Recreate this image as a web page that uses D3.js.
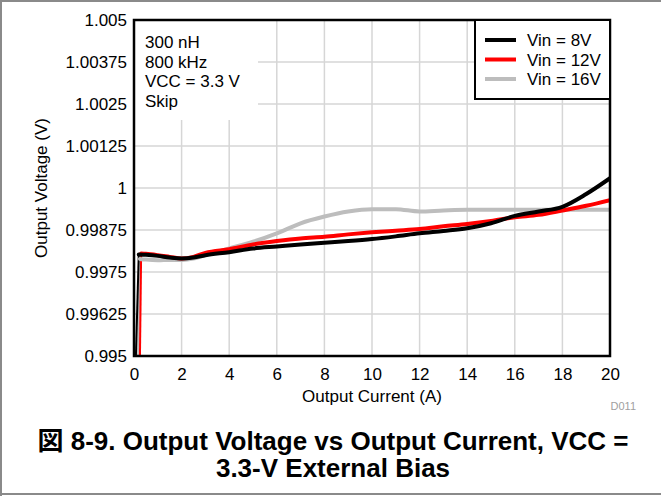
<!DOCTYPE html>
<html>
<head>
<meta charset="utf-8">
<script src="https://cdn.jsdelivr.net/npm/d3@7"></script>
<style>
  html, body { margin: 0; padding: 0; background: #fff; }
  svg { display: block; }
  text { font-family: "Liberation Sans", Arial, "Noto Sans CJK JP", sans-serif; }
</style>
</head>
<body>
<svg id="chart" width="661" height="496"></svg>
<script>
// Output current (A) sample points
const current8  = [0.08, 0.2, 0.5, 1, 1.5, 2, 2.5, 3, 4, 5, 6, 7, 8, 9, 10, 11, 12, 13, 14, 15, 16, 17, 18, 19, 20];
const current12 = [0.25, 0.3, 0.5, 1, 1.5, 2, 2.5, 3, 4, 5, 6, 7, 8, 9, 10, 11, 12, 13, 14, 15, 16, 17, 18, 19, 20];
const current16 = [0.17, 0.25, 0.5, 1, 1.5, 2, 2.5, 3, 4, 5, 6, 7, 8, 9, 10, 11, 12, 13, 14, 15, 16, 17, 18, 19, 20];

// Output voltage (V) per input voltage
const vout8V  = [0.9950, 0.99802, 0.99801, 0.99798, 0.99793, 0.99790, 0.99793, 0.99800, 0.99809, 0.99820, 0.99826, 0.99832, 0.99837, 0.99842, 0.99848, 0.99856, 0.99865, 0.99872, 0.99880, 0.99895, 0.99917, 0.99930, 0.99944, 0.99982, 1.00029];
const vout12V = [0.9950, 0.99805, 0.99804, 0.99800, 0.99795, 0.99790, 0.99795, 0.99807, 0.99818, 0.99832, 0.99842, 0.99850, 0.99855, 0.99862, 0.99868, 0.99873, 0.99878, 0.99886, 0.99893, 0.99902, 0.99913, 0.99920, 0.99933, 0.99947, 0.99964];
const vout16V = [0.9950, 0.99789, 0.99787, 0.99785, 0.99786, 0.99786, 0.99790, 0.99800, 0.99820, 0.99840, 0.99865, 0.99895, 0.99915, 0.99930, 0.99937, 0.99937, 0.99930, 0.99933, 0.99935, 0.99935, 0.99935, 0.99935, 0.99935, 0.99935, 0.99935];

const seriesNames  = ["Vin = 8V", "Vin = 12V", "Vin = 16V"];
const seriesColors = ["#000000", "#ff0000", "#bdbdbd"];

const xTicks = [0, 2, 4, 6, 8, 10, 12, 14, 16, 18, 20];
const yTicks = [0.995, 0.99625, 0.9975, 0.99875, 1, 1.00125, 1.0025, 1.00375, 1.005];
const yTickLabels = ["0.995", "0.99625", "0.9975", "0.99875", "1", "1.00125", "1.0025", "1.00375", "1.005"];

const conditions = ["300 nH", "800 kHz", "VCC = 3.3 V", "Skip"];

const svg = d3.select("#chart");
const W = 661, H = 496;
const plot = { left: 134, top: 20, right: 610, bottom: 356 };

const x = d3.scaleLinear().domain([0, 20]).range([plot.left, plot.right]);
const y = d3.scaleLinear().domain([0.995, 1.005]).range([plot.bottom, plot.top]);

// outer figure frame (top, left, bottom)
const frame = svg.append("g").attr("stroke", "#8a8a8a").attr("stroke-width", 2);
frame.append("line").attr("x1", 0).attr("x2", W).attr("y1", 1).attr("y2", 1);
frame.append("line").attr("x1", 1).attr("x2", 1).attr("y1", 0).attr("y2", H);
frame.append("line").attr("x1", 0).attr("x2", W).attr("y1", H - 2).attr("y2", H - 2);

// grid
const grid = svg.append("g").attr("stroke", "#d6d6d6").attr("stroke-width", 1.5);
grid.selectAll("line.v").data(xTicks.slice(1, -1)).join("line")
  .attr("x1", d => x(d)).attr("x2", d => x(d))
  .attr("y1", plot.top).attr("y2", plot.bottom);
grid.selectAll("line.h").data(yTicks.slice(1, -1)).join("line")
  .attr("x1", plot.left).attr("x2", plot.right)
  .attr("y1", d => y(d)).attr("y2", d => y(d));

// white panel behind the operating-condition notes
svg.append("rect")
  .attr("x", plot.left).attr("y", plot.top)
  .attr("width", 124).attr("height", 100)
  .attr("fill", "#fff");

// data lines
svg.append("clipPath").attr("id", "plotClip").append("rect")
  .attr("x", plot.left).attr("y", plot.top)
  .attr("width", plot.right - plot.left).attr("height", plot.bottom - plot.top);

const series = [
  d3.zip(current8, vout8V),
  d3.zip(current12, vout12V),
  d3.zip(current16, vout16V)
];
const line = d3.line().x(d => x(d[0])).y(d => y(d[1])).curve(d3.curveMonotoneX);
// steep start-up rise drawn as a thin stroke, the rest as the full-weight trace
const drawOrder = [2, 1, 0];
const lines = svg.append("g").attr("clip-path", "url(#plotClip)");
lines.selectAll("path.rise").data(drawOrder).join("path")
  .attr("class", "rise")
  .attr("d", i => line(series[i].slice(0, 2)))
  .attr("fill", "none")
  .attr("stroke", i => seriesColors[i])
  .attr("stroke-width", 2);
lines.selectAll("path.trace").data(drawOrder).join("path")
  .attr("class", "trace")
  .attr("d", i => line(series[i].slice(1)))
  .attr("fill", "none")
  .attr("stroke", i => seriesColors[i])
  .attr("stroke-width", 4)
  .attr("stroke-linejoin", "round")
  .attr("stroke-linecap", "round");

// axes (labels only, frame drawn separately)
const xAxis = d3.axisBottom(x).tickValues(xTicks).tickSize(0).tickPadding(12);
svg.append("g").attr("transform", `translate(0,${plot.bottom})`).call(xAxis)
  .call(g => g.select(".domain").remove())
  .call(g => g.selectAll("text").attr("font-size", 17).attr("fill", "#000")
    .attr("font-family", "'Liberation Sans', Arial, sans-serif"));

const yAxis = d3.axisLeft(y).tickValues(yTicks).tickSize(0).tickPadding(7)
  .tickFormat((d, i) => yTickLabels[i]);
svg.append("g").attr("transform", `translate(${plot.left},0)`).call(yAxis)
  .call(g => g.select(".domain").remove())
  .call(g => g.selectAll("text").attr("font-size", 17).attr("fill", "#000")
    .attr("font-family", "'Liberation Sans', Arial, sans-serif"));

// plot frame
svg.append("rect")
  .attr("x", plot.left).attr("y", plot.top)
  .attr("width", plot.right - plot.left).attr("height", plot.bottom - plot.top)
  .attr("fill", "none").attr("stroke", "#000").attr("stroke-width", 2.5);

// operating conditions
svg.append("g").selectAll("text").data(conditions).join("text")
  .attr("x", 145).attr("y", (d, i) => 48 + i * 19.5)
  .attr("font-size", 17).attr("fill", "#000")
  .text(d => d);

// legend
const lg = svg.append("g");
lg.append("rect")
  .attr("x", 475).attr("y", plot.top)
  .attr("width", plot.right - 475).attr("height", 79)
  .attr("fill", "#fff").attr("stroke", "#000").attr("stroke-width", 2);
seriesNames.forEach((name, i) => {
  const cy = 40 + i * 19.5;
  lg.append("line").attr("x1", 485).attr("x2", 516).attr("y1", cy).attr("y2", cy)
    .attr("stroke", seriesColors[i]).attr("stroke-width", 4);
  lg.append("text").attr("x", 527).attr("y", cy + 6)
    .attr("font-size", 17).attr("fill", "#000").text(name);
});

// axis titles
svg.append("text")
  .attr("x", (plot.left + plot.right) / 2).attr("y", 402)
  .attr("text-anchor", "middle").attr("font-size", 17)
  .text("Output Current (A)");
svg.append("text")
  .attr("transform", `translate(47,${(plot.top + plot.bottom) / 2}) rotate(-90)`)
  .attr("text-anchor", "middle").attr("font-size", 17)
  .text("Output Voltage (V)");

// figure id
svg.append("text")
  .attr("x", 636).attr("y", 410).attr("text-anchor", "end")
  .attr("font-size", 11).attr("fill", "#a0a0a0")
  .text("D011");

// caption
const cap = svg.append("g").attr("font-weight", "bold").attr("font-size", 26)
  .attr("text-anchor", "middle").attr("fill", "#000");
cap.append("text").attr("x", 333).attr("y", 450)
  .text("図 8-9. Output Voltage vs Output Current, VCC =");
cap.append("text").attr("x", 333).attr("y", 477)
  .text("3.3-V External Bias");
</script>
</body>
</html>
